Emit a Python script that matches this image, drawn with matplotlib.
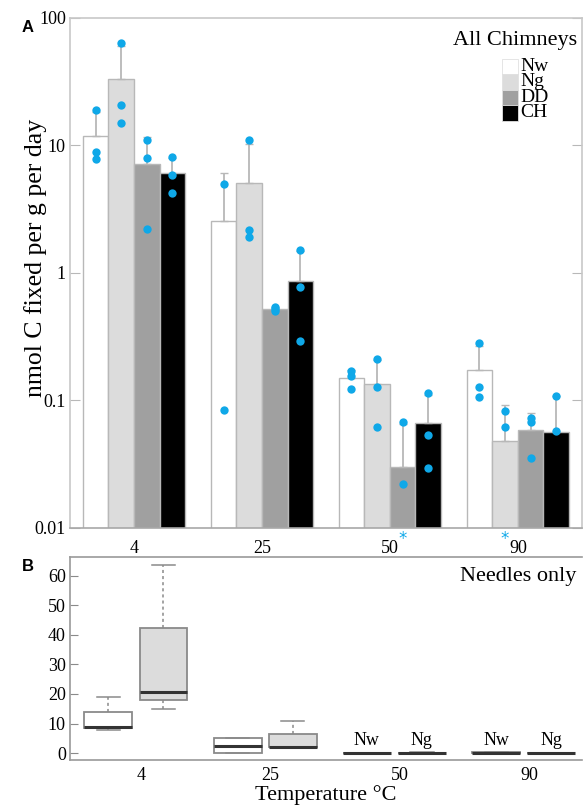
import matplotlib.pyplot as plt
import matplotlib.transforms as mtransforms
import numpy as np
from matplotlib.patches import Rectangle
from matplotlib.ticker import FixedLocator, NullLocator

plt.rcParams['font.family'] = ['Liberation Serif', 'DejaVu Serif']

temps = ["4", "25", "50", "90"]
tipos = ["Nw", "Ng", "DD", "CH"]
cores = ["#ffffff", "#dcdcdc", "#a0a0a0", "#000000"]

# replicate values per temperature (nmol C / g / day)
nw = [[19.0, 8.9, 7.8], [5.0, 0.084], [0.170, 0.156, 0.123], [0.282, 0.128, 0.106]]
ng = [[63.7, 20.8, 15.0], [11.0, 2.17, 1.92], [0.211, 0.128, 0.062], [0.083, 0.062, 0.0]]
dd = [[11.0, 8.0, 2.2], [0.54, 0.52, 0.50], [0.068, 0.022, 0.0], [0.073, 0.068, 0.0354]]
ch = [[8.1, 5.8, 4.2], [1.51, 0.78, 0.29], [0.1145, 0.0537, 0.0296], [0.108, 0.057, 0.005]]

series = [nw, ng, dd, ch]

azul = "#0fa8e8"
cinza = "#b8b8b8"


def fivenum(v):
    # Tukey five-number summary (same hinges as R boxplot)
    v = np.sort(np.asarray(v, dtype=float))
    n = len(v)
    n4 = np.floor((n + 3) / 2) / 2
    d = np.array([1, n4, (n + 1) / 2, n + 1 - n4, n])
    lo = np.floor(d).astype(int) - 1
    hi = np.ceil(d).astype(int) - 1
    return 0.5 * (v[lo] + v[hi])


fig = plt.figure(figsize=(5.83, 8.07), dpi=100)

# ---------------- A: all chimneys, log scale ----------------
axA = fig.add_axes([0.120, 0.346, 0.878, 0.632])
x = np.arange(len(temps))
larg = 0.2
desloc = [-0.3, -0.1, 0.1, 0.3]
trans = mtransforms.blended_transform_factory(axA.transData, axA.transAxes)

for k in range(4):
    medias = np.array([np.mean(v) for v in series[k]])
    desvios = np.array([np.std(v, ddof=1) for v in series[k]])
    xs = x + desloc[k]
    axA.bar(xs, medias, width=larg, color=cores[k], edgecolor=cinza,
            linewidth=1.0, zorder=2)
    axA.errorbar(xs, medias, yerr=[np.zeros(4), desvios], fmt='none',
                 ecolor=cinza, elinewidth=1.3, capsize=3, capthick=1.0,
                 zorder=3)
    for i in range(4):
        vals = np.array(series[k][i])
        pos = vals[vals > 0]
        axA.scatter(np.full(len(pos), xs[i]), pos, s=36, color=azul,
                    zorder=4, linewidths=0)
        # replicate below detection
        if np.any(vals == 0):
            axA.text(xs[i], -0.022, "*", color=azul, ha='center',
                     va='center', fontsize=12, family='DejaVu Sans',
                     transform=trans, clip_on=False)

axA.set_yscale('log')
axA.set_ylim(0.01, 100)
axA.set_xlim(-0.5, 3.5)
axA.yaxis.set_major_locator(FixedLocator([0.01, 0.1, 1, 10, 100]))
axA.yaxis.set_minor_locator(NullLocator())
axA.set_yticklabels(["0.01", "0.1", "1", "10", "100"])
axA.set_xticks(x)
axA.set_xticklabels(temps)
axA.tick_params(axis='x', length=0, pad=9, labelsize=13)
axA.tick_params(axis='y', direction='in', length=7, color=cinza,
                labelsize=13, right=True, pad=3)
for s in axA.spines.values():
    s.set_color("#c8c8c8")
    s.set_linewidth(1.2)
axA.spines['bottom'].set_color("#a8a8a8")
axA.set_ylabel("nmol C fixed per g per day", fontsize=18.5)
axA.yaxis.set_label_coords(-0.045, 0.53)

axA.text(0.99, 0.975, "All Chimneys", transform=axA.transAxes,
         ha='right', va='top', fontsize=16)
# legend swatches
for k, nome in enumerate(tipos):
    y0 = 0.920 - (k + 1) * 0.0304
    axA.add_patch(Rectangle((0.844, y0), 0.031, 0.0304, facecolor=cores[k],
                            edgecolor="#e0e0e0", linewidth=0.6,
                            transform=axA.transAxes, zorder=5))
    axA.text(0.879, y0 + 0.0152, nome, transform=axA.transAxes,
             ha='left', va='center', fontsize=14, zorder=5)

fig.text(0.037, 0.966, "A", fontsize=12, fontweight='bold',
         family='Liberation Sans', ha='left', va='center')

# ---------------- B: needles only, box plots ----------------
axB = fig.add_axes([0.120, 0.058, 0.878, 0.252])
off = 0.213
for i in range(4):
    for dados, d, cor, nome in [(nw[i], -off, cores[0], "Nw"),
                                (ng[i], off, cores[1], "Ng")]:
        mn, q1, med, q3, mx = fivenum(dados)
        stats = [dict(med=med, q1=q1, q3=q3, whislo=mn, whishi=mx,
                      fliers=[])]
        axB.bxp(stats, positions=[i + d], widths=0.37, showfliers=False,
                patch_artist=True, capwidths=0.18,
                boxprops=dict(facecolor=cor, edgecolor="#8a8a8a",
                              linewidth=1.3),
                medianprops=dict(color="#333333", linewidth=2.2),
                whiskerprops=dict(color="#8a8a8a", linewidth=1.1,
                                  linestyle=(0, (2, 2))),
                capprops=dict(color="#8a8a8a", linewidth=1.1))
        if mx < 1:
            axB.text(i + d, 1.5, nome, ha='center', va='bottom', fontsize=13)

axB.set_xlim(-0.51, 3.45)
axB.set_ylim(-2.4, 66.4)
axB.set_yticks([0, 10, 20, 30, 40, 50, 60])
axB.set_yticklabels(["0", "10", "20", "30", "40", "50", "60"])
axB.set_xticks(x + 0.04)
axB.set_xticklabels(temps)
axB.tick_params(axis='x', length=0, pad=5, labelsize=13)
axB.tick_params(axis='y', direction='in', length=6, color="#8a8a8a",
                labelsize=13, pad=3)
axB.spines['right'].set_visible(False)
for s in ['left', 'top', 'bottom']:
    axB.spines[s].set_color("#9a9a9a")
    axB.spines[s].set_linewidth(1.2)
axB.set_xlabel("Temperature \u00b0C", fontsize=16, labelpad=1)
axB.text(0.99, 0.95, "Needles only", transform=axB.transAxes,
         ha='right', va='top', fontsize=16)

fig.text(0.037, 0.298, "B", fontsize=12, fontweight='bold',
         family='Liberation Sans', ha='left', va='center')

plt.savefig("out.png", dpi=100)
